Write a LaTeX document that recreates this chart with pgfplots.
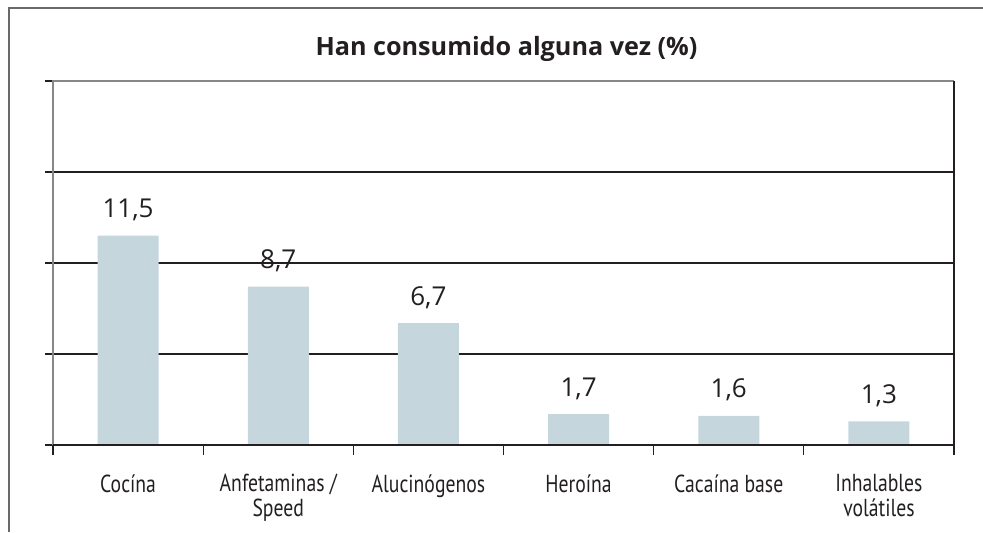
\documentclass[border=0pt]{standalone}
\usepackage{fontspec}
\setmainfont{Open Sans}
\newfontfamily\condfont[FakeStretch=0.8]{PT Sans}
\usepackage{pgfplots}
\pgfplotsset{compat=1.18}
\definecolor{barfill}{RGB}{197,215,220}
\definecolor{framegray}{RGB}{105,105,105}
\definecolor{axgray}{RGB}{135,135,135}
\definecolor{txt}{RGB}{35,31,32}

\begin{document}
\begin{tikzpicture}
\begin{axis}[
  at={(0,0)}, anchor=south west,
  scale only axis, clip=false,
  width=450.5pt, height=182pt,
  xmin=-0.5, xmax=5.5, ymin=0, ymax=20,
  axis line style={draw=none},
  ytick={0,5,10,15,20}, yticklabels={},
  extra y ticks={5,10,15}, extra y tick labels={},
  extra y tick style={ymajorgrids, major tick length=0pt},
  grid style={draw=txt, line width=0.6pt},
  xtick={0,...,5},
  xticklabels={Cocína, Anfetaminas /\\Speed, Alucinógenos, Heroína, Cacaína base, Inhalables\\volátiles},
  xtick pos=bottom, ytick pos=left,
  major x tick style={draw=none},
  minor xtick={-0.5,0.5,...,5.5},
  minor x tick style={draw=txt, line width=0.6pt},
  major y tick style={draw=txt, line width=0.6pt},
  tick align=outside,
  major tick length=4pt, minor tick length=5pt,
  xticklabel style={font=\condfont\fontsize{12.3}{12.5}\selectfont, text=txt, align=center,
    anchor=north, inner sep=0pt, yshift=-10.5pt},
  nodes near coords,
  every node near coord/.append style={font=\fontsize{13}{14}\selectfont, text=txt,
    anchor=base, inner sep=0pt, yshift=9pt},
  /pgf/number format/.cd, use comma, fixed, precision=1, fixed zerofill, assume math mode=true,
]
\addplot[ybar, bar width=30.5pt, fill=barfill, draw=none]
  coordinates {(0,11.5) (1,8.7) (2,6.7) (3,1.7) (4,1.6) (5,1.3)};
\draw[axgray, line width=1pt] (rel axis cs:0,0) -- (rel axis cs:0,1) -- (rel axis cs:1,1);
\draw[txt, line width=0.8pt] (rel axis cs:0,0) -- (rel axis cs:1,0) -- (rel axis cs:1,1);
\end{axis}
\draw[framegray, line width=1pt] (-22pt,-43.5pt) -- (-22pt,218.5pt) -- (465pt,218.5pt);
\node[anchor=base, font=\bfseries\fontsize{12.6}{14}\selectfont, text=txt, inner sep=0pt]
  at (226.75pt,195pt) {Han consumido alguna vez (\%)};
\pgfresetboundingbox
\path[use as bounding box] (-26.5pt,-43.5pt) rectangle (465pt,222.5pt);
\end{tikzpicture}
\end{document}
